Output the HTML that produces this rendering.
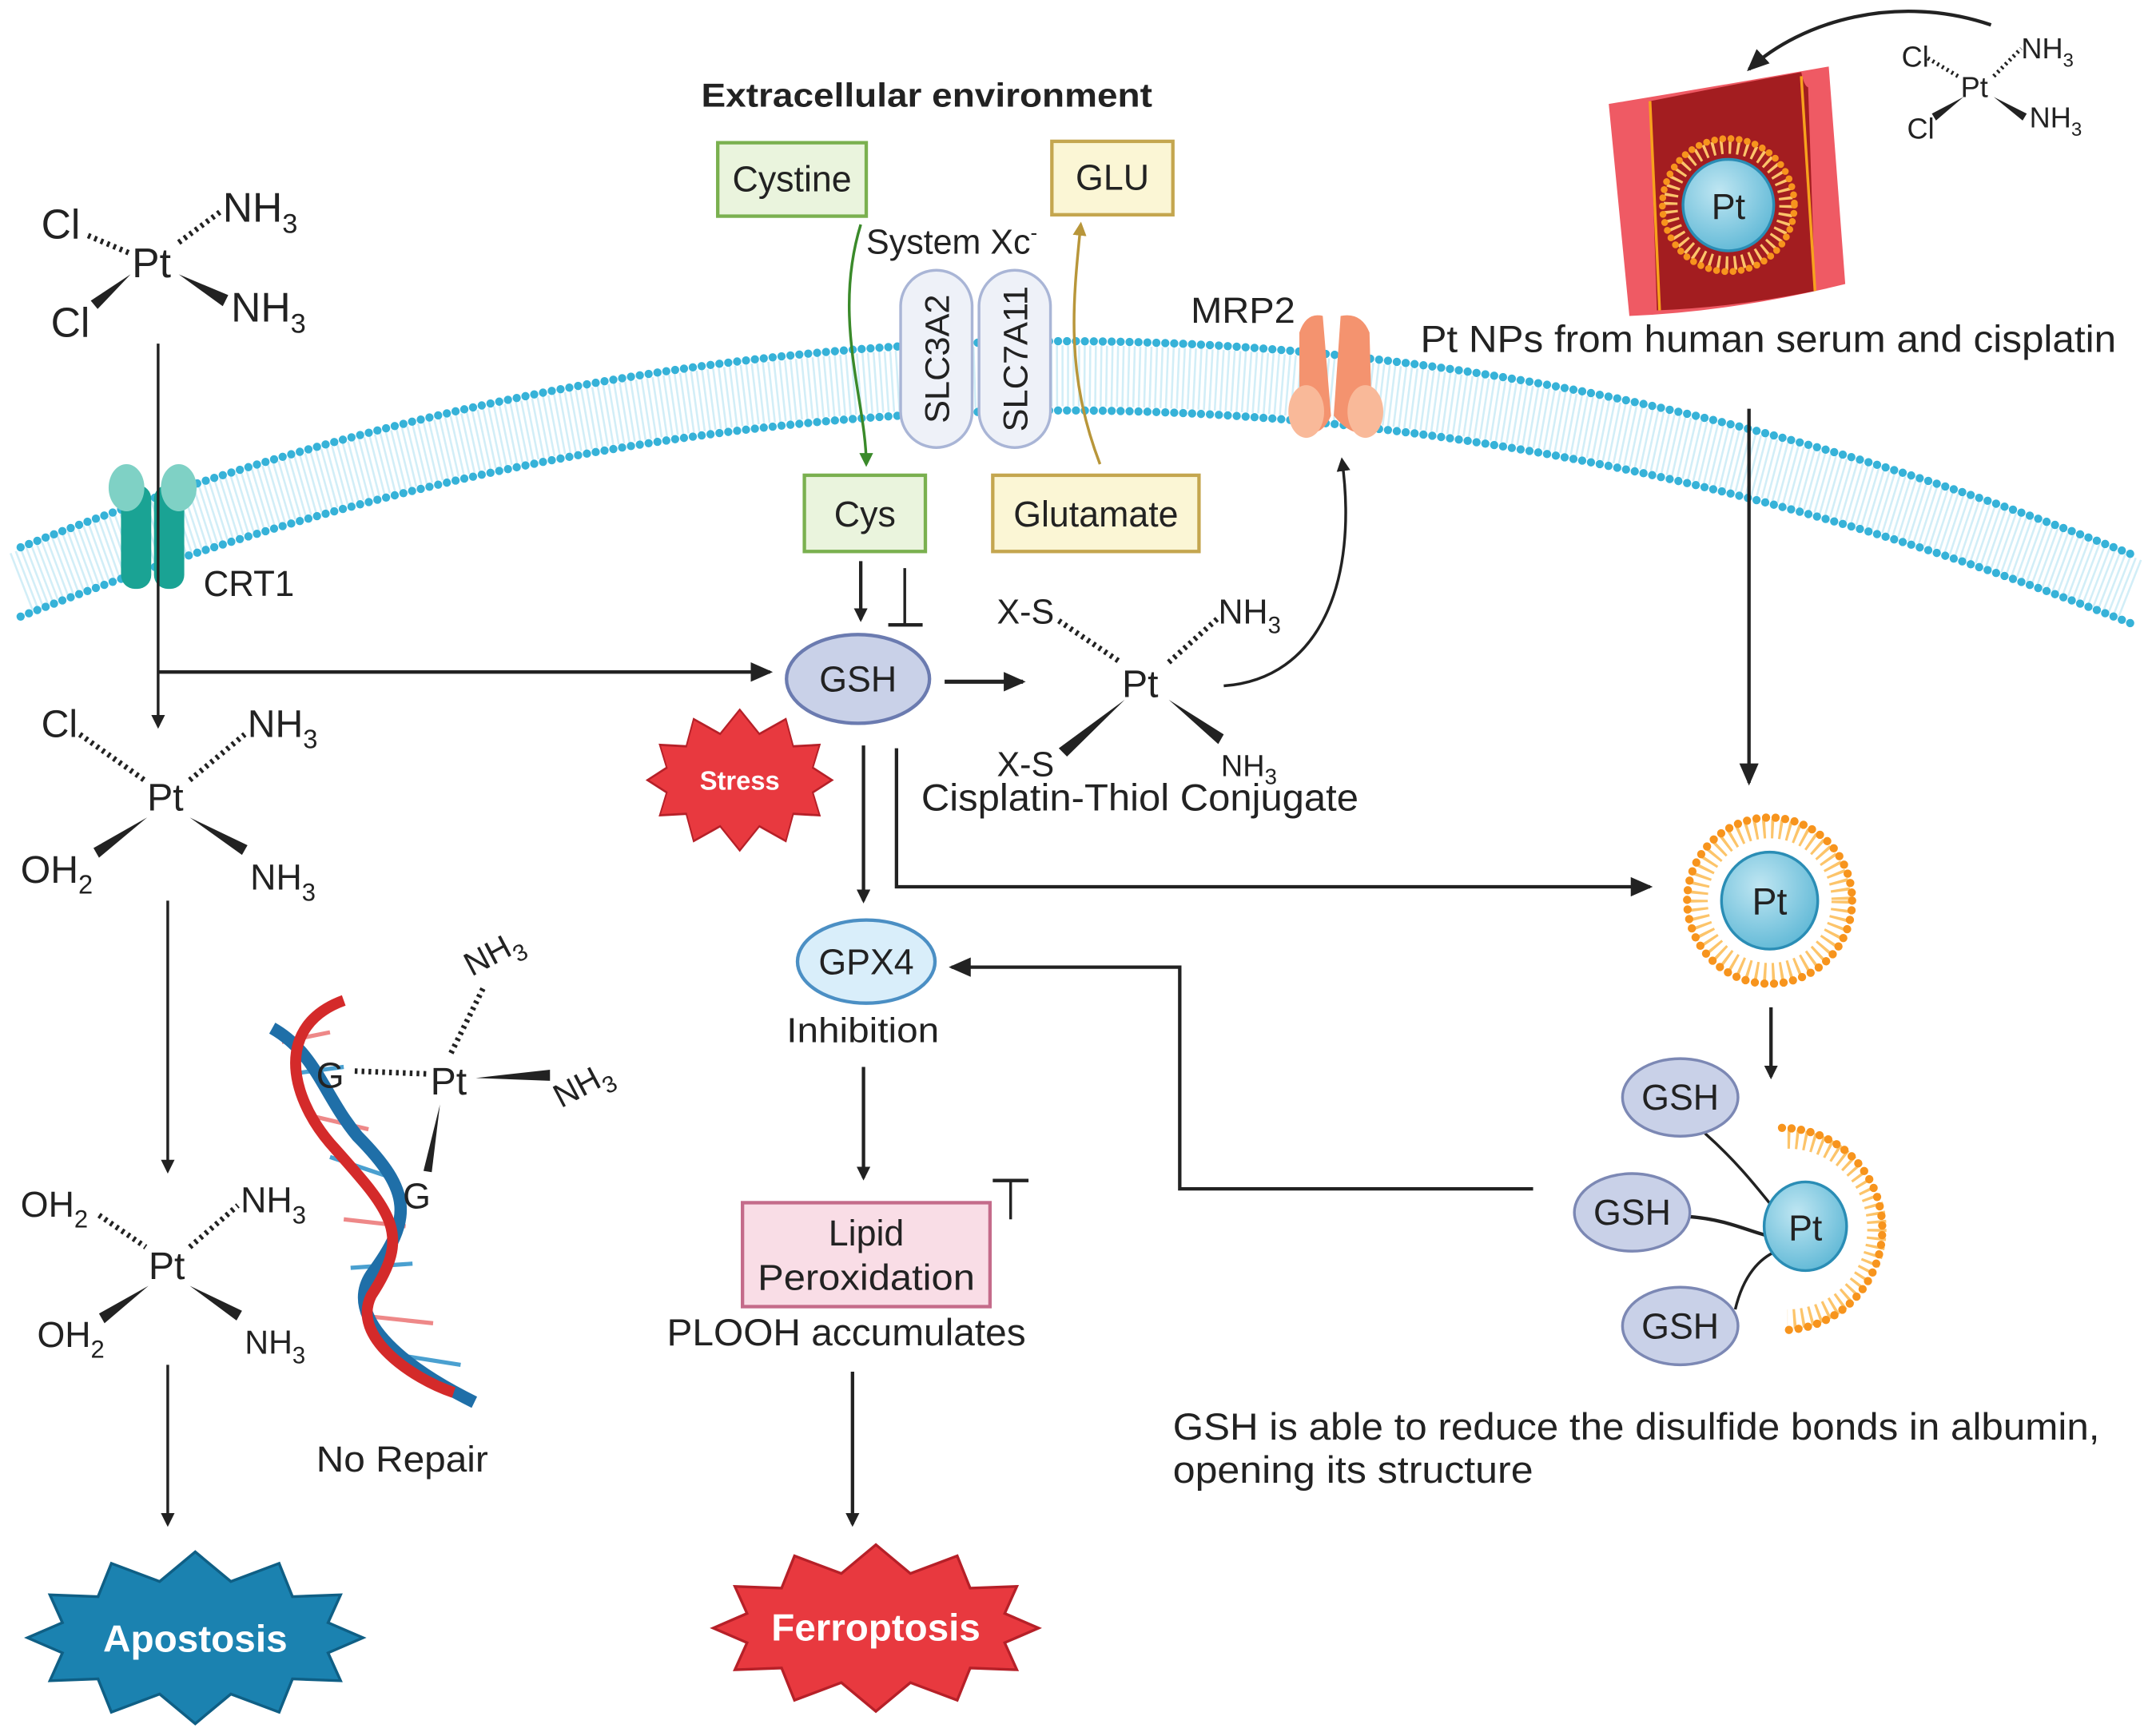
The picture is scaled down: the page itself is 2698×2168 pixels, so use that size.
<!DOCTYPE html>
<html><head><meta charset="utf-8"><style>
html,body{margin:0;padding:0;background:#fff;}
svg{display:block;}
text{font-family:"Liberation Sans",sans-serif;fill:#222;}
</style></head><body>
<svg width="2698" height="2168" viewBox="0 0 1568 1250" preserveAspectRatio="none" xmlns="http://www.w3.org/2000/svg">
<defs>
<marker id="ah" markerWidth="10" markerHeight="10" refX="8" refY="5" orient="auto" markerUnits="userSpaceOnUse"><path d="M0,0 L10,5 L0,10 Z" fill="#222"/></marker>
<marker id="ah2" markerWidth="16" markerHeight="14" refX="14" refY="7" orient="auto" markerUnits="userSpaceOnUse"><path d="M0,0 L16,7 L0,14 Z" fill="#222"/></marker>
<marker id="ag" markerWidth="10" markerHeight="10" refX="8" refY="5" orient="auto" markerUnits="userSpaceOnUse"><path d="M0,0 L10,5 L0,10 Z" fill="#3a8a2a"/></marker>
<marker id="ay" markerWidth="10" markerHeight="10" refX="8" refY="5" orient="auto" markerUnits="userSpaceOnUse"><path d="M0,0 L10,5 L0,10 Z" fill="#b8963a"/></marker>
<radialGradient id="ptg" cx="40%" cy="35%" r="70%"><stop offset="0" stop-color="#bfe6f2"/><stop offset="1" stop-color="#5fb8d6"/></radialGradient>
</defs>

<!-- membrane -->
<path d="M15,420 Q780,120 1550,425" fill="none" stroke="#d2eef7" stroke-width="44" stroke-dasharray="1.5 2.5"/>
<path d="M15,395 Q780,95 1550,400" fill="none" stroke="#36b2d8" stroke-width="6" stroke-dasharray="0 6.5" stroke-linecap="round"/>
<path d="M15,445 Q780,145 1550,450" fill="none" stroke="#36b2d8" stroke-width="6" stroke-dasharray="0 6.5" stroke-linecap="round"/>

<!-- CRT1 -->
<rect x="88" y="350" width="22" height="75" rx="10" fill="#1aa394"/>
<rect x="112" y="350" width="22" height="75" rx="10" fill="#1aa394"/>
<ellipse cx="92" cy="352" rx="13" ry="17" fill="#7fd1c5"/>
<ellipse cx="130" cy="352" rx="13" ry="17" fill="#7fd1c5"/>
<text x="148" y="430" font-size="26" textLength="66" lengthAdjust="spacingAndGlyphs">CRT1</text>

<!-- top-left cisplatin -->
<text x="30" y="172" font-size="30">Cl</text>
<text x="162" y="160" font-size="30">NH<tspan font-size="20" dy="8">3</tspan></text>
<text x="96" y="200" font-size="30">Pt</text>
<text x="37" y="243" font-size="30">Cl</text>
<text x="168" y="232" font-size="30">NH<tspan font-size="20" dy="8">3</tspan></text>
<line x1="64" y1="170" x2="95" y2="183" stroke="#222" stroke-width="4" stroke-dasharray="2 3"/>
<line x1="130" y1="175" x2="160" y2="153" stroke="#222" stroke-width="4" stroke-dasharray="2 3"/>
<polygon points="95,198 66,217 71,223" fill="#222"/>
<polygon points="130,198 166,213 162,221" fill="#222"/>

<line x1="115" y1="248" x2="115" y2="524" stroke="#222" stroke-width="2" marker-end="url(#ah)"/>
<line x1="115" y1="485" x2="560" y2="485" stroke="#222" stroke-width="2.5" marker-end="url(#ah2)"/>

<!-- second complex -->
<text x="30" y="532" font-size="28">Cl</text>
<text x="180" y="532" font-size="28">NH<tspan font-size="19" dy="8">3</tspan></text>
<text x="107" y="585" font-size="28">Pt</text>
<text x="15" y="637" font-size="28">OH<tspan font-size="19" dy="8">2</tspan></text>
<text x="182" y="642" font-size="26">NH<tspan font-size="18" dy="8">3</tspan></text>
<line x1="58" y1="530" x2="105" y2="563" stroke="#222" stroke-width="4" stroke-dasharray="2 3"/>
<line x1="138" y1="563" x2="178" y2="530" stroke="#222" stroke-width="4" stroke-dasharray="2 3"/>
<polygon points="107,590 68,612 72,619" fill="#222"/>
<polygon points="138,590 180,610 176,617" fill="#222"/>
<line x1="122" y1="650" x2="122" y2="845" stroke="#222" stroke-width="2" marker-end="url(#ah)"/>

<!-- third complex -->
<text x="15" y="878" font-size="26">OH<tspan font-size="18" dy="8">2</tspan></text>
<text x="175" y="875" font-size="26">NH<tspan font-size="18" dy="8">3</tspan></text>
<text x="108" y="923" font-size="28">Pt</text>
<text x="27" y="972" font-size="26">OH<tspan font-size="18" dy="8">2</tspan></text>
<text x="178" y="977" font-size="24">NH<tspan font-size="17" dy="7">3</tspan></text>
<line x1="72" y1="877" x2="106" y2="900" stroke="#222" stroke-width="4" stroke-dasharray="2 3"/>
<line x1="138" y1="900" x2="173" y2="870" stroke="#222" stroke-width="4" stroke-dasharray="2 3"/>
<polygon points="108,928 72,948 76,955" fill="#222"/>
<polygon points="138,928 176,946 172,953" fill="#222"/>
<line x1="122" y1="985" x2="122" y2="1100" stroke="#222" stroke-width="2" marker-end="url(#ah)"/>

<!-- DNA -->
<g stroke-width="3">
<line x1="205" y1="752" x2="240" y2="745" stroke="#e88"/><line x1="212" y1="775" x2="250" y2="770" stroke="#4aa0d0"/>
<line x1="225" y1="805" x2="268" y2="815" stroke="#e88"/><line x1="240" y1="835" x2="285" y2="850" stroke="#4aa0d0"/>
<line x1="250" y1="880" x2="295" y2="885" stroke="#e88"/><line x1="255" y1="915" x2="300" y2="912" stroke="#4aa0d0"/>
<line x1="268" y1="950" x2="315" y2="955" stroke="#e88"/><line x1="290" y1="978" x2="335" y2="985" stroke="#4aa0d0"/>
</g>
<path d="M198,742 C230,760 235,790 260,820 C300,860 300,880 270,920 C250,950 290,985 345,1012" fill="none" stroke="#1f6fa8" stroke-width="9"/>
<path d="M250,722 C200,740 210,790 240,825 C285,875 300,890 270,935 C255,965 300,995 330,1005" fill="none" stroke="#d42a2a" stroke-width="8"/>
<text x="230" y="785" font-size="26">G</text>
<text x="293" y="872" font-size="26">G</text>
<text x="313" y="790" font-size="28">Pt</text>
<line x1="258" y1="773" x2="310" y2="775" stroke="#222" stroke-width="4" stroke-dasharray="2 3"/>
<line x1="328" y1="760" x2="352" y2="712" stroke="#222" stroke-width="4" stroke-dasharray="2 3"/>
<polygon points="346,778 400,772 400,780" fill="#222"/>
<polygon points="320,797 308,845 314,846" fill="#222"/>
<text x="343" y="705" font-size="24" transform="rotate(-28 343 705)">NH<tspan font-size="17" dy="7">3</tspan></text>
<text x="408" y="800" font-size="24" transform="rotate(-28 408 800)">NH<tspan font-size="17" dy="7">3</tspan></text>
<text x="230" y="1062" font-size="26" textLength="125" lengthAdjust="spacingAndGlyphs">No Repair</text>

<!-- Apoptosis star -->
<polygon points="264,1182 238.6,1192.9 247.7,1213 212.7,1211.7 203,1235.7 167.9,1222.6 142,1244 116.1,1222.6 81,1235.7 71.3,1211.7 36.3,1213 45.4,1192.9 20,1182 45.4,1171.1 36.3,1151 71.3,1152.3 81,1128.3 116.1,1141.4 142,1120 167.9,1141.4 203,1128.3 212.7,1152.3 247.7,1151 238.6,1171.1" fill="#1b82b0" stroke="#0f5f85" stroke-width="2"/>
<text x="142" y="1192" font-size="27" font-weight="bold" text-anchor="middle" textLength="134" lengthAdjust="spacingAndGlyphs" style="fill:#fff">Apostosis</text>

<!-- Extracellular -->
<text x="510" y="77" font-size="24" font-weight="bold" textLength="328" lengthAdjust="spacingAndGlyphs">Extracellular environment</text>
<rect x="522" y="103" width="108" height="53" fill="#eaf4dd" stroke="#7ab04f" stroke-width="2.5"/>
<text x="576" y="138" font-size="26" text-anchor="middle">Cystine</text>
<rect x="765" y="102" width="88" height="53" fill="#fbf6d5" stroke="#c4a64f" stroke-width="2.5"/>
<text x="809" y="137" font-size="26" text-anchor="middle">GLU</text>
<text x="630" y="183" font-size="25">System Xc<tspan font-size="15" dy="-10">-</tspan></text>
<rect x="655" y="195" width="52" height="128" rx="26" fill="#eef1f8" stroke="#a9b5d6" stroke-width="2"/>
<rect x="712" y="195" width="52" height="128" rx="26" fill="#eef1f8" stroke="#a9b5d6" stroke-width="2"/>
<text transform="translate(690 259) rotate(-90)" font-size="25" text-anchor="middle">SLC3A2</text>
<text transform="translate(747 259) rotate(-90)" font-size="25" text-anchor="middle">SLC7A11</text>
<path d="M626,162 C605,230 630,290 630,335" fill="none" stroke="#3a8a2a" stroke-width="2" marker-end="url(#ag)"/>
<path d="M800,335 C775,270 780,220 786,162" fill="none" stroke="#b8963a" stroke-width="2" marker-end="url(#ay)"/>
<rect x="585" y="343" width="88" height="55" fill="#eaf4dd" stroke="#7ab04f" stroke-width="2.5"/>
<text x="629" y="380" font-size="26" text-anchor="middle">Cys</text>
<rect x="722" y="343" width="150" height="55" fill="#fbf6d5" stroke="#c4a64f" stroke-width="2.5"/>
<text x="797" y="380" font-size="26" text-anchor="middle">Glutamate</text>
<line x1="626" y1="405" x2="626" y2="447" stroke="#222" stroke-width="2.5" marker-end="url(#ah)"/>
<line x1="658" y1="410" x2="658" y2="451" stroke="#222" stroke-width="2"/>
<line x1="646" y1="451" x2="671" y2="451" stroke="#222" stroke-width="2.5"/>

<ellipse cx="624" cy="490" rx="52" ry="32" fill="#c9d1e8" stroke="#6b7bb0" stroke-width="2.5"/>
<text x="624" y="499" font-size="26" text-anchor="middle">GSH</text>
<line x1="687" y1="492" x2="744" y2="492" stroke="#222" stroke-width="3" marker-end="url(#ah2)"/>

<!-- thiol conjugate -->
<text x="725" y="450" font-size="25">X-S</text>
<text x="886" y="450" font-size="25">NH<tspan font-size="17" dy="7">3</tspan></text>
<text x="816" y="503" font-size="28">Pt</text>
<text x="725" y="560" font-size="25">X-S</text>
<text x="888" y="560" font-size="22">NH<tspan font-size="16" dy="6">3</tspan></text>
<line x1="770" y1="448" x2="815" y2="478" stroke="#222" stroke-width="4" stroke-dasharray="2 3"/>
<line x1="850" y1="478" x2="886" y2="446" stroke="#222" stroke-width="4" stroke-dasharray="2 3"/>
<polygon points="818,505 770,540 776,546" fill="#222"/>
<polygon points="850,505 890,530 886,537" fill="#222"/>
<text x="670" y="585" font-size="27" textLength="318" lengthAdjust="spacingAndGlyphs">Cisplatin-Thiol Conjugate</text>
<path d="M890,495 C960,490 988,420 976,332" fill="none" stroke="#222" stroke-width="2" marker-end="url(#ah)"/>

<!-- MRP2 -->
<path d="M945,240 Q950,225 962,228 L968,300 Q960,318 945,310 Z" fill="#f4936f"/>
<path d="M975,228 Q990,225 996,240 L998,310 Q985,318 970,300 Z" fill="#f4936f"/>
<ellipse cx="950" cy="297" rx="13" ry="19" fill="#f9b999"/>
<ellipse cx="993" cy="297" rx="13" ry="19" fill="#f9b999"/>
<text x="866" y="233" font-size="26" textLength="76" lengthAdjust="spacingAndGlyphs">MRP2</text>

<!-- Stress star -->
<g transform="translate(538 563) scale(0.55 0.82) translate(-142 -1182)">
<polygon points="264,1182 238.6,1192.9 247.7,1213 212.7,1211.7 203,1235.7 167.9,1222.6 142,1244 116.1,1222.6 81,1235.7 71.3,1211.7 36.3,1213 45.4,1192.9 20,1182 45.4,1171.1 36.3,1151 71.3,1152.3 81,1128.3 116.1,1141.4 142,1120 167.9,1141.4 203,1128.3 212.7,1152.3 247.7,1151 238.6,1171.1" fill="#e8393f" stroke="#b62028" stroke-width="2"/>
</g>
<text x="538" y="570" font-size="19" font-weight="bold" text-anchor="middle" style="fill:#fff">Stress</text>

<line x1="628" y1="538" x2="628" y2="650" stroke="#222" stroke-width="2.5" marker-end="url(#ah)"/>
<polyline points="652,540 652,640 1200,640" fill="none" stroke="#222" stroke-width="2.5" marker-end="url(#ah2)"/>

<ellipse cx="630" cy="694" rx="50" ry="30" fill="#d9eefa" stroke="#4b8fc4" stroke-width="2.5"/>
<text x="630" y="703" font-size="26" text-anchor="middle">GPX4</text>
<text x="572" y="752" font-size="25" textLength="111" lengthAdjust="spacingAndGlyphs">Inhibition</text>
<line x1="628" y1="770" x2="628" y2="850" stroke="#222" stroke-width="2.5" marker-end="url(#ah)"/>
<polyline points="1115,858 858,858 858,698 692,698" fill="none" stroke="#222" stroke-width="2.5" marker-end="url(#ah2)"/>

<rect x="540" y="868" width="180" height="75" fill="#f9dde6" stroke="#c46b8a" stroke-width="2.5"/>
<text x="630" y="899" font-size="26" text-anchor="middle">Lipid</text>
<text x="630" y="931" font-size="26" text-anchor="middle" textLength="158" lengthAdjust="spacingAndGlyphs">Peroxidation</text>
<line x1="722" y1="852" x2="748" y2="852" stroke="#222" stroke-width="2.5"/>
<line x1="735" y1="852" x2="735" y2="880" stroke="#222" stroke-width="2"/>
<text x="485" y="971" font-size="27" textLength="261" lengthAdjust="spacingAndGlyphs">PLOOH accumulates</text>
<line x1="620" y1="990" x2="620" y2="1100" stroke="#222" stroke-width="2.5" marker-end="url(#ah)"/>

<g transform="translate(637 1175) scale(0.97 0.97) translate(-142 -1182)">
<polygon points="264,1182 238.6,1192.9 247.7,1213 212.7,1211.7 203,1235.7 167.9,1222.6 142,1244 116.1,1222.6 81,1235.7 71.3,1211.7 36.3,1213 45.4,1192.9 20,1182 45.4,1171.1 36.3,1151 71.3,1152.3 81,1128.3 116.1,1141.4 142,1120 167.9,1141.4 203,1128.3 212.7,1152.3 247.7,1151 238.6,1171.1" fill="#e8393f" stroke="#b62028" stroke-width="2"/>
</g>
<text x="637" y="1184" font-size="27" font-weight="bold" text-anchor="middle" textLength="152" lengthAdjust="spacingAndGlyphs" style="fill:#fff">Ferroptosis</text>

<!-- blood vessel -->
<path d="M1170,75 Q1250,62 1330,48 L1342,205 Q1260,225 1185,228 Z" fill="#ef5a64"/>
<path d="M1200,73 Q1255,62 1310,52 Q1312,62 1315,63 L1320,210 Q1260,222 1205,224 Z" fill="#a31d20"/>
<line x1="1200" y1="73" x2="1207" y2="224" stroke="#f7a21d" stroke-width="2"/>
<line x1="1310" y1="55" x2="1320" y2="210" stroke="#f7a21d" stroke-width="2"/>
<circle cx="1257" cy="148" r="42" fill="none" stroke="#fcc46a" stroke-width="10" stroke-dasharray="2 4"/>
<circle cx="1257" cy="148" r="48" fill="none" stroke="#f7941d" stroke-width="5" stroke-dasharray="0 6" stroke-linecap="round"/>
<circle cx="1257" cy="148" r="33" fill="url(#ptg)" stroke="#2a8db5" stroke-width="2"/>
<text x="1257" y="158" font-size="26" text-anchor="middle">Pt</text>

<!-- top-right cisplatin -->
<text x="1383" y="48" font-size="21">Cl</text>
<text x="1470" y="42" font-size="21">NH<tspan font-size="14" dy="6">3</tspan></text>
<text x="1426" y="70" font-size="21">Pt</text>
<text x="1387" y="100" font-size="21">Cl</text>
<text x="1476" y="92" font-size="21">NH<tspan font-size="14" dy="6">3</tspan></text>
<line x1="1402" y1="42" x2="1424" y2="55" stroke="#222" stroke-width="3" stroke-dasharray="1.5 2.5"/>
<line x1="1450" y1="55" x2="1470" y2="35" stroke="#222" stroke-width="3" stroke-dasharray="1.5 2.5"/>
<polygon points="1428,70 1405,82 1408,87" fill="#222"/>
<polygon points="1450,70 1474,82 1471,87" fill="#222"/>
<path d="M1448,18 C1380,-5 1310,15 1272,50" fill="none" stroke="#222" stroke-width="2.5" marker-end="url(#ah2)"/>
<text x="1033" y="254" font-size="27" textLength="506" lengthAdjust="spacingAndGlyphs">Pt NPs from human serum and cisplatin</text>
<line x1="1272" y1="295" x2="1272" y2="565" stroke="#222" stroke-width="2.5" marker-end="url(#ah2)"/>

<!-- Pt NP -->
<circle cx="1287" cy="650" r="52" fill="none" stroke="#fcc46a" stroke-width="14" stroke-dasharray="2 4"/>
<circle cx="1287" cy="650" r="60" fill="none" stroke="#f7941d" stroke-width="6" stroke-dasharray="0 7" stroke-linecap="round"/>
<circle cx="1287" cy="650" r="35" fill="url(#ptg)" stroke="#2a8db5" stroke-width="2"/>
<text x="1287" y="660" font-size="27" text-anchor="middle">Pt</text>
<line x1="1288" y1="727" x2="1288" y2="777" stroke="#222" stroke-width="2.5" marker-end="url(#ah)"/>

<!-- GSH cluster -->
<path d="M1300,822 A65,65 0 0,1 1300,952" fill="none" stroke="#fcc46a" stroke-width="14" stroke-dasharray="2 4"/>
<path d="M1296,814 A72,72 0 0,1 1296,960" fill="none" stroke="#f7941d" stroke-width="6" stroke-dasharray="0 7" stroke-linecap="round"/>
<path d="M1240,818 C1265,840 1280,860 1290,872" fill="none" stroke="#222" stroke-width="2"/>
<path d="M1228,878 C1255,880 1270,888 1286,892" fill="none" stroke="#222" stroke-width="2.5"/>
<path d="M1262,945 C1268,920 1280,908 1292,903" fill="none" stroke="#222" stroke-width="2"/>
<ellipse cx="1222" cy="792" rx="42" ry="28" fill="#c9d1e8" stroke="#7c88b4" stroke-width="2"/>
<text x="1222" y="801" font-size="26" text-anchor="middle">GSH</text>
<ellipse cx="1187" cy="875" rx="42" ry="28" fill="#c9d1e8" stroke="#7c88b4" stroke-width="2"/>
<text x="1187" y="884" font-size="26" text-anchor="middle">GSH</text>
<ellipse cx="1222" cy="957" rx="42" ry="28" fill="#c9d1e8" stroke="#7c88b4" stroke-width="2"/>
<text x="1222" y="966" font-size="26" text-anchor="middle">GSH</text>
<ellipse cx="1313" cy="885" rx="30" ry="32" fill="url(#ptg)" stroke="#2a8db5" stroke-width="2"/>
<text x="1313" y="895" font-size="26" text-anchor="middle">Pt</text>

<text x="853" y="1039" font-size="27" textLength="674" lengthAdjust="spacingAndGlyphs">GSH is able to reduce the disulfide bonds in albumin,</text>
<text x="853" y="1070" font-size="27" textLength="262" lengthAdjust="spacingAndGlyphs">opening its structure</text>
</svg>
</body></html>
